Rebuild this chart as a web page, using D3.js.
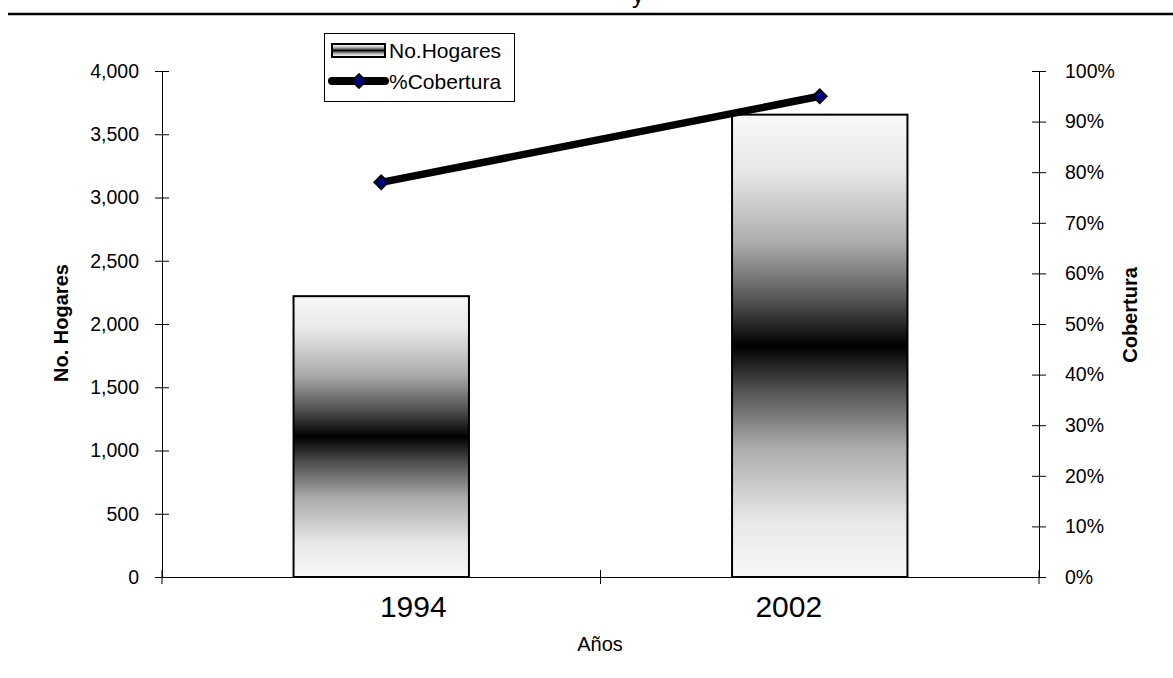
<!DOCTYPE html>
<html>
<head>
<meta charset="utf-8">
<script src="https://cdn.jsdelivr.net/npm/d3@7"></script>
<style>
  body { margin: 0; background: #fff; }
  svg { display: block; font-family: "Liberation Sans", Arial, sans-serif; }
</style>
</head>
<body>
<div id="chart"></div>
<script>
var years = ["1994", "2002"]
var hogares = [2220, 3655]
var cobertura = [0.78, 0.95]
var hogaresTicks = [0, 500, 1000, 1500, 2000, 2500, 3000, 3500, 4000]
var coberturaTicks = [0, 0.1, 0.2, 0.3, 0.4, 0.5, 0.6, 0.7, 0.8, 0.9, 1]

var margin = {top: 71, right: 134, bottom: 101, left: 162},
  width = 1173 - margin.left - margin.right,
  height = 678 - margin.top - margin.bottom;

var root = d3.select("#chart")
  .append("svg")
  .attr("width", 1173)
  .attr("height", 678)

// gradient used by the bars (white - black - white)
var grad = root.append("defs").append("linearGradient")
  .attr("id", "barGrad")
  .attr("x1", 0).attr("y1", 0).attr("x2", 0).attr("y2", 1)
var stops = [[0, "#f8f8f8"], [0.12, "#e8e8e8"], [0.28, "#ababab"], [0.4, "#555"], [0.5, "#000"],
             [0.6, "#555"], [0.72, "#ababab"], [0.88, "#e8e8e8"], [1, "#f8f8f8"]]
grad.selectAll("stop").data(stops).enter().append("stop")
  .attr("offset", function(d) { return d[0] })
  .attr("stop-color", function(d) { return d[1] })

// title is cut off at the top, only the tail of the "y" shows
root.append("text")
  .attr("x", 638).attr("y", 3)
  .attr("text-anchor", "middle")
  .attr("font-size", 24)
  .text("y")
root.append("line")
  .attr("x1", 8).attr("x2", 1173)
  .attr("y1", 14).attr("y2", 14)
  .attr("stroke", "#000").attr("stroke-width", 2.5)

var svg = root.append("g")
  .attr("transform", "translate(" + margin.left + "," + margin.top + ")");

var x = d3.scaleBand()
  .range([0, width])
  .domain(years)
  .padding(0)

var y = d3.scaleLinear()
  .range([height, 0])
  .domain([0, 4000])

var y2 = d3.scaleLinear()
  .range([height, 0])
  .domain([0, 1])

// bars
svg.selectAll(".bar")
  .data(years)
  .enter().append("rect")
  .attr("class", "bar")
  .attr("x", function(d) { return x(d) + x.bandwidth() * 0.3 })
  .attr("width", x.bandwidth() * 0.4)
  .attr("y", function(d, i) { return y(hogares[i]) })
  .attr("height", function(d, i) { return height - y(hogares[i]) })
  .attr("fill", "url(#barGrad)")
  .attr("stroke", "#000")
  .attr("stroke-width", 2)

// left axis
var yAxis = svg.append("g")
  .call(d3.axisLeft(y).tickValues(hogaresTicks).tickFormat(d3.format(",")).tickSizeOuter(0))
yAxis.select(".domain").attr("stroke", "#000")
yAxis.selectAll(".tick line").attr("x1", 7).attr("x2", -7).attr("stroke", "#000")
yAxis.selectAll(".tick text").attr("x", -23).attr("font-size", 19.5).attr("font-family", "Liberation Sans, Arial, sans-serif").attr("fill", "#000")

// right axis
var y2Axis = svg.append("g")
  .attr("transform", "translate(" + width + ",0)")
  .call(d3.axisRight(y2).tickValues(coberturaTicks).tickFormat(d3.format(".0%")).tickSizeOuter(0))
y2Axis.select(".domain").attr("stroke", "#000")
y2Axis.selectAll(".tick line").attr("x1", -7).attr("x2", 7).attr("stroke", "#000")
y2Axis.selectAll(".tick text").attr("x", 26).attr("font-size", 19.5).attr("font-family", "Liberation Sans, Arial, sans-serif").attr("fill", "#000")

// bottom axis
var xAxis = svg.append("g")
  .attr("transform", "translate(0," + height + ")")
  .call(d3.axisBottom(x).tickSize(0).tickPadding(0))
xAxis.select(".domain").attr("stroke", "#000")
xAxis.selectAll(".tick text")
  .attr("y", 40)
  .attr("dy", 0)
  .attr("dx", function(d, i) { return i === 0 ? 32 : -31 })
  .attr("font-size", 30)
  .attr("font-family", "Liberation Sans, Arial, sans-serif")
  .attr("fill", "#000")

var bounds = years.map(function(d) { return x(d) }).concat([width])
svg.selectAll(".xb")
  .data(bounds)
  .enter().append("line")
  .attr("x1", function(d) { return d }).attr("x2", function(d) { return d })
  .attr("y1", height - 7).attr("y2", height + 7)
  .attr("stroke", "#000")

// line series
var line = d3.line()
  .x(function(d, i) { return x(years[i]) + x.bandwidth() / 2 })
  .y(function(d) { return y2(d) })

svg.append("path")
  .datum(cobertura)
  .attr("d", line)
  .attr("fill", "none")
  .attr("stroke", "#000")
  .attr("stroke-width", 7.5)

var diamond = d3.symbol().type(d3.symbolDiamond2).size(120)
svg.selectAll(".pt")
  .data(cobertura)
  .enter().append("path")
  .attr("d", diamond)
  .attr("transform", function(d, i) {
    return "translate(" + (x(years[i]) + x.bandwidth() / 2) + "," + y2(d) + ")" })
  .attr("fill", "#000080")
  .attr("stroke", "#000")
  .attr("stroke-width", 2)

// axis titles
root.append("text")
  .attr("transform", "translate(68,323) rotate(-90)")
  .attr("text-anchor", "middle")
  .attr("font-size", 20)
  .attr("font-weight", "bold")
  .text("No. Hogares")

root.append("text")
  .attr("transform", "translate(1137,315) rotate(-90)")
  .attr("text-anchor", "middle")
  .attr("font-size", 20)
  .attr("font-weight", "bold")
  .text("Cobertura")

root.append("text")
  .attr("x", 600).attr("y", 651)
  .attr("text-anchor", "middle")
  .attr("font-size", 20)
  .text("Años")

// legend
var legend = root.append("g")
legend.append("rect")
  .attr("x", 324.5).attr("y", 33.5)
  .attr("width", 190).attr("height", 68)
  .attr("fill", "#fff")
  .attr("stroke", "#000")
  .attr("stroke-width", 1)

legend.append("rect")
  .attr("x", 332).attr("y", 44)
  .attr("width", 53).attr("height", 13)
  .attr("fill", "url(#barGrad)")
  .attr("stroke", "#000")
  .attr("stroke-width", 2)
legend.append("text")
  .attr("x", 389).attr("y", 58)
  .attr("font-size", 21)
  .text("No.Hogares")

legend.append("line")
  .attr("x1", 332).attr("x2", 385)
  .attr("y1", 81).attr("y2", 81)
  .attr("stroke", "#000")
  .attr("stroke-width", 8)
  .attr("stroke-linecap", "round")
legend.append("path")
  .attr("d", diamond)
  .attr("transform", "translate(359,81)")
  .attr("fill", "#000080")
  .attr("stroke", "#000")
  .attr("stroke-width", 2)
legend.append("text")
  .attr("x", 389).attr("y", 89)
  .attr("font-size", 21)
  .text("%Cobertura")
</script>
</body>
</html>
